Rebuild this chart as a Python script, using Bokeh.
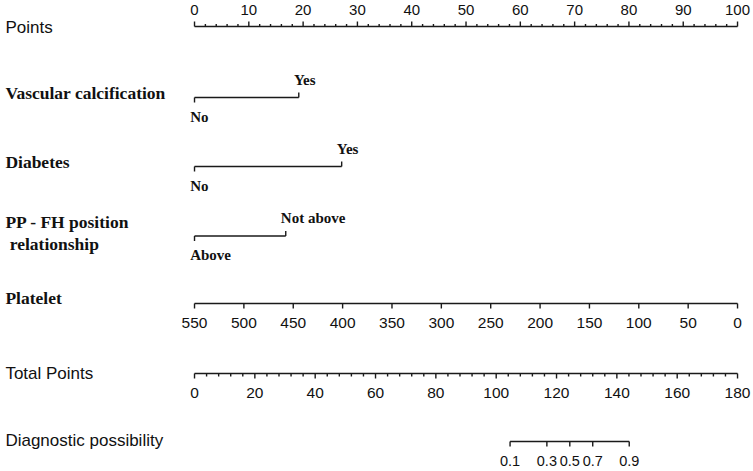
from bokeh.plotting import figure
from bokeh.models import Range1d
from bokeh.core.properties import value
from bokeh.embed import file_html
from bokeh.resources import INLINE

# ---- data ----
points_major = [0, 10, 20, 30, 40, 50, 60, 70, 80, 90, 100]
points_minor_step = 2

vc_levels = ["No", "Yes"]
vc_points = [0, 19.2]

diab_levels = ["No", "Yes"]
diab_points = [0, 27.1]

pp_levels = ["Above", "Not above"]
pp_points = [0, 16.8]

platelet_values = [550, 500, 450, 400, 350, 300, 250, 200, 150, 100, 50, 0]
platelet_max = 550

total_major = [0, 20, 40, 60, 80, 100, 120, 140, 160, 180]
total_minor_step = 4
total_max = 180

diag_probs = ["0.1", "0.3", "0.5", "0.7", "0.9"]
diag_total = [104.6, 116.8, 124.4, 132.0, 144.1]

row_names = ["Points", "Vascular calcification", "Diabetes", "PP - FH position", "\u00a0relationship",
             "Platelet", "Total Points", "Diagnostic possibility"]

# ---- figure (x in "points" units, y in page pixels) ----
W, H = 753, 471
X0 = -35.73
X1 = 102.94
p = figure(width=W, height=H, output_backend="svg", toolbar_location=None,
           x_range=Range1d(X0, X1), y_range=Range1d(H, 0),
           min_border=0, min_border_left=0, min_border_right=0,
           min_border_top=0, min_border_bottom=0)
p.axis.visible = False
p.grid.visible = False
p.outline_line_color = None
p.background_fill_color = "white"
p.border_fill_color = "white"

LC = "#1a1a1a"
LW = 1.4
SANS = value("Liberation Sans")
SERIF = value("Liberation Serif")


def hline(x0, x1, y):
    p.segment(x0=[x0], y0=[y], x1=[x1], y1=[y], line_color=LC, line_width=LW)


def ticks(xs, y, length):
    p.segment(x0=xs, y0=[y] * len(xs), x1=xs, y1=[y + length] * len(xs),
              line_color=LC, line_width=LW)


def labels(xs, ys, txt, font, size, style="normal", align="center"):
    p.text(x=xs, y=ys, text=txt, text_font=font, text_font_size=size,
           text_font_style=style, text_align=align, text_baseline="middle",
           text_color="#111111")


# Points axis
yP = 26
hline(points_major[0], points_major[-1], yP)
ticks(points_major, yP, -5)
minor = [v for v in range(0, 101, points_minor_step) if v % 10 != 0]
ticks(minor, yP, -2.5)
labels(points_major, [9.5] * len(points_major), [str(v) for v in points_major], SANS, "15px")


def cat_row(pts, levels, y):
    hline(pts[0], pts[1], y)
    ticks([pts[0]], y, 5)
    ticks([pts[1]], y, -5)
    labels([pts[0] - 0.8], [y + 19], [levels[0]], SERIF, "15px", "bold", "left")
    labels([pts[1] - 0.9], [y - 18], [levels[1]], SERIF, "15px", "bold", "left")


cat_row(vc_points, vc_levels, 97)
cat_row(diab_points, diab_levels, 166)
cat_row(pp_points, pp_levels, 235.5)

# Platelet
yPl = 303
pl_x = [(platelet_max - v) / platelet_max * 100 for v in platelet_values]
hline(min(pl_x), max(pl_x), yPl)
ticks(pl_x, yPl, 5)
labels(pl_x, [yPl + 19] * len(pl_x), [str(v) for v in platelet_values], SANS, "15.5px")

# Total points
yT = 373
t_x = [v / total_max * 100 for v in total_major]
hline(0, 100, yT)
ticks(t_x, yT, 5)
tminor = [v / total_max * 100 for v in range(0, total_max + 1, total_minor_step) if v % 20 != 0]
ticks(tminor, yT, 3)
labels(t_x, [yT + 19] * len(t_x), [str(v) for v in total_major], SANS, "15.5px")

# Diagnostic possibility
yD = 441
d_x = [v / total_max * 100 for v in diag_total]
hline(min(d_x), max(d_x), yD)
ticks(d_x, yD, 5)
labels(d_x, [yD + 19.5] * len(d_x), diag_probs, SANS, "14.5px")

# Row names
name_y = [27, 92, 161, 221, 243, 297, 373, 440]
name_font = [SANS, SERIF, SERIF, SERIF, SERIF, SERIF, SANS, SANS]
name_style = ["normal", "bold", "bold", "bold", "bold", "bold", "normal", "normal"]
name_size = ["17px", "17.5px", "17.5px", "17.5px", "17.5px", "17.5px", "17px", "17px"]
for nm, yy, f, st, sz in zip(row_names, name_y, name_font, name_style, name_size):
    p.text(x=[X0 + 0.9], y=[yy], text=[nm], text_font=f, text_font_size=sz,
           text_font_style=st, text_align="left", text_baseline="middle", text_color="#111111")

open("out.html", "w").write(file_html(p, INLINE))
